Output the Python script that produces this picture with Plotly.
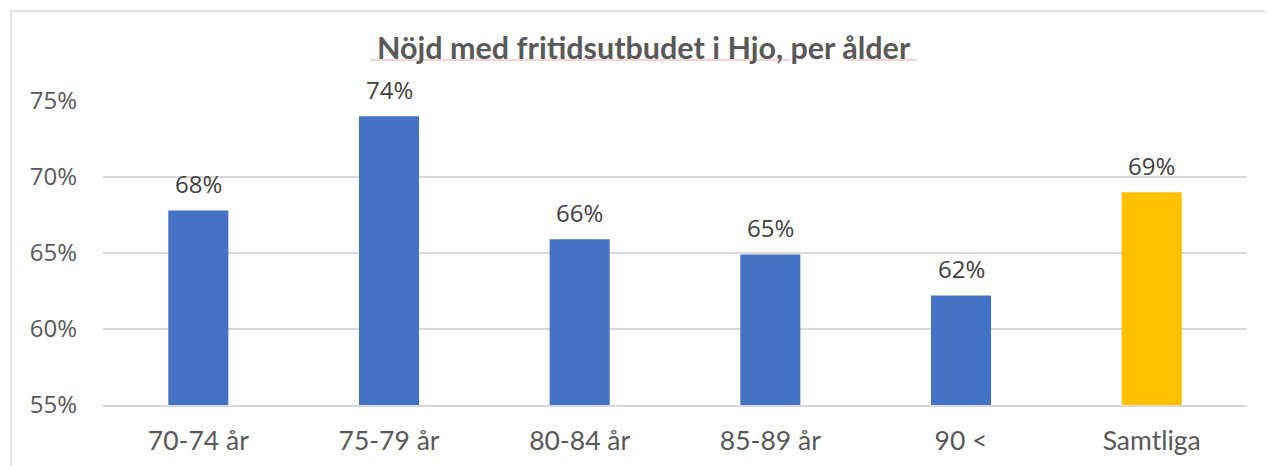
import plotly.graph_objects as go

categories = ["70-74 år", "75-79 år", "80-84 år", "85-89 år", "90 <", "Samtliga"]
values = [67.8, 74.0, 65.9, 64.9, 62.2, 69.0]
bar_colors = ["#4472C4", "#4472C4", "#4472C4", "#4472C4", "#4472C4", "#FFC000"]
y_ticks = [55, 60, 65, 70, 75]
title_text = "Nöjd med fritidsutbudet i Hjo, per ålder"

# page body has an 8px margin; figure starts at (8, 8)
OFF = 8
W, H = 1273 - OFF, 466 - OFF
L, R, T, B = 103 - OFF, 26, 101 - OFF, 61
pw, ph = W - L - R, H - T - B

def px(p):
    return (p - OFF - L) / pw

def py(p):
    return (H - B - (p - OFF)) / ph

fig = go.Figure()
fig.add_trace(go.Bar(
    x=categories, y=values, marker=dict(color=bar_colors, line=dict(width=0)),
    width=0.315, hoverinfo="skip",
))

annotations = []
for c, v in zip(categories, values):
    annotations.append(dict(
        x=c, y=v, xref="x", yref="y", text=f"{v:.0f}%", showarrow=False,
        yanchor="middle", yshift=27,
        font=dict(family="Open Sans, Noto Sans, sans-serif", size=24, color="#404040"),
    ))
annotations.append(dict(
    x=px(644), xref="paper", y=py(47), yref="paper", text=f"<b>{title_text}</b>",
    showarrow=False, xanchor="center", yanchor="middle",
    font=dict(family="Lato, sans-serif", size=30.5, color="#595959"),
))

shapes = [
    dict(type="rect", xref="paper", yref="paper", x0=px(11), x1=px(1300), y0=py(500), y1=py(11),
         line=dict(color="#d9d9d9", width=1.5), fillcolor="rgba(0,0,0,0)", layer="below"),
    dict(type="line", xref="paper", yref="paper", x0=px(371), x1=px(790), y0=py(60), y1=py(60),
         line=dict(color="#f4a6a6", width=1.2)),
    dict(type="line", xref="paper", yref="paper", x0=px(848), x1=px(917), y0=py(60), y1=py(60),
         line=dict(color="#f4a6a6", width=1.2)),
]

fig.update_layout(
    width=W, height=H, margin=dict(l=L, r=R, t=T, b=B, autoexpand=False),
    paper_bgcolor="white", plot_bgcolor="white", showlegend=False,
    annotations=annotations, shapes=shapes,
    xaxis=dict(
        showgrid=False, showline=True, linecolor="#d9d9d9", linewidth=2, ticks="",
        tickfont=dict(family="Lato, sans-serif", size=26.5, color="#595959"),
        ticklabelstandoff=11, fixedrange=True,
    ),
    yaxis=dict(
        range=[55, 75], tickvals=y_ticks, ticktext=[f"{t}%" for t in y_ticks],
        showgrid=True, gridcolor="#d9d9d9", gridwidth=2, zeroline=False, showline=False,
        ticks="", tickfont=dict(family="Open Sans, Noto Sans, sans-serif", size=24, color="#595959"),
        ticklabelstandoff=25, fixedrange=True,
    ),
)

fig.write_html("out.html")
